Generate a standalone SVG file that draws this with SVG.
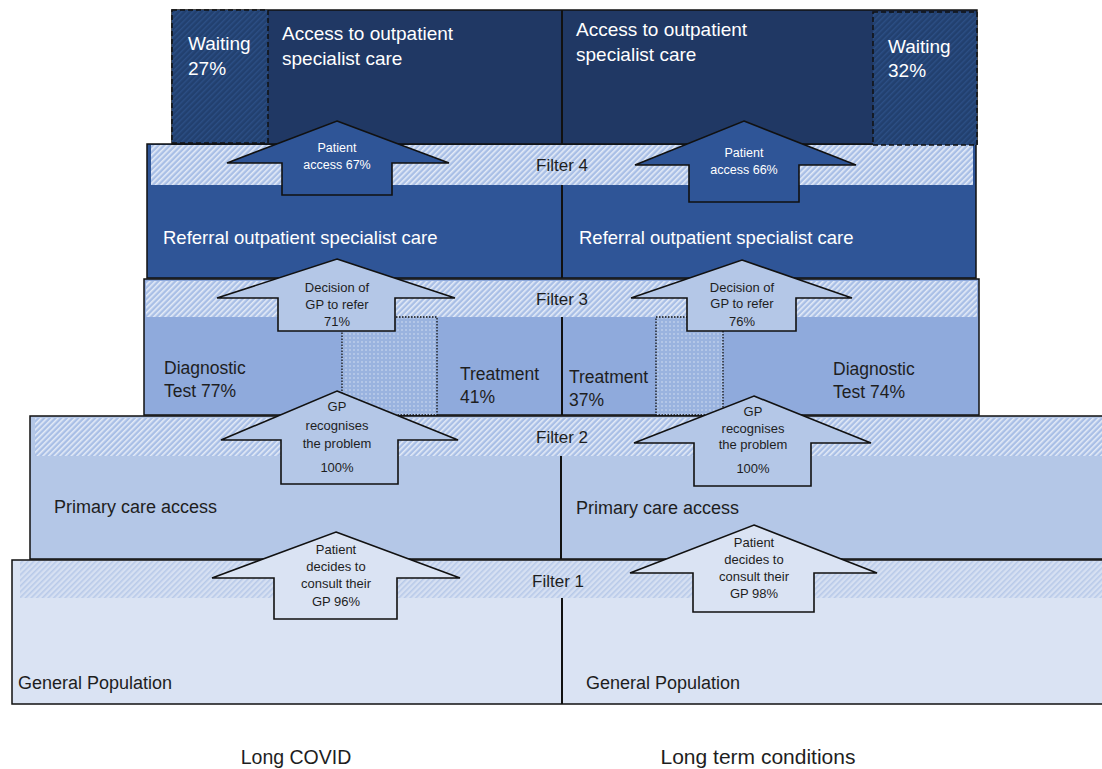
<svg xmlns="http://www.w3.org/2000/svg" width="1102" height="769" viewBox="0 0 1102 769">
  <style>
    text { font-family: "Liberation Sans", Arial, sans-serif; }
    .lyr { stroke: #111; stroke-width: 1.5; }
    .div { stroke: #111; stroke-width: 2; fill: none; }
    .arrow { stroke: #111; stroke-width: 1.6; stroke-linejoin: miter; }
    .wt { fill: #ffffff; }
    .dk { fill: #1e1e1e; }
    .big { font-size: 19px; }
    .lbl { font-size: 18px; }
    .mid { font-size: 17.5px; }
    .filt { font-size: 17px; text-anchor: middle; fill: #1e1e1e; }
    .sm { font-size: 13px; text-anchor: middle; }
    .xs { font-size: 12.5px; text-anchor: middle; }
    .foot { font-size: 19.5px; text-anchor: middle; fill: #1e1e1e; }
  </style>
  <defs>
    <pattern id="hatchLight" width="4" height="4" patternUnits="userSpaceOnUse" patternTransform="rotate(45)">
      <rect width="4" height="4" fill="#a9bfe6"/>
      <rect width="1.6" height="4" fill="#e4ebf7"/>
    </pattern>
    <pattern id="hatchPale" width="4" height="4" patternUnits="userSpaceOnUse" patternTransform="rotate(45)">
      <rect width="4" height="4" fill="#d6e0f2"/>
      <rect width="1.6" height="4" fill="#b8cae9"/>
    </pattern>
    <pattern id="waitHatch" width="4" height="4" patternUnits="userSpaceOnUse" patternTransform="rotate(45)">
      <rect width="4" height="4" fill="#22406f"/>
      <rect width="1.4" height="4" fill="#2c4f85"/>
    </pattern>
    <pattern id="dots" width="4" height="4" patternUnits="userSpaceOnUse">
      <rect width="4" height="4" fill="#9ab3df"/>
      <rect x="1.5" y="1.5" width="1" height="1" fill="#ffffff"/>
    </pattern>
  </defs>

  <!-- Layer 1: General Population -->
  <g id="layer-general-population">
    <rect class="lyr" x="12" y="560" width="1100" height="144" fill="#dae3f3"/>
    <rect x="20" y="561" width="1090" height="37" fill="url(#hatchPale)"/>
    <text class="filt" x="558" y="587">Filter 1</text>
    <text class="lbl dk" x="18" y="689">General Population</text>
    <text class="lbl dk" x="586" y="689">General Population</text>
  </g>

  <!-- Layer 2: Primary care access -->
  <g id="layer-primary-care">
    <rect class="lyr" x="30" y="416" width="1080" height="143" fill="#b4c7e7"/>
    <rect x="35" y="418" width="1070" height="38" fill="url(#hatchLight)"/>
    <text class="filt" x="562" y="443">Filter 2</text>
    <text class="lbl dk" x="54" y="513">Primary care access</text>
    <text class="lbl dk" x="576" y="514">Primary care access</text>
  </g>

  <!-- Layer 3: Diagnostic / Treatment -->
  <g id="layer-diagnostic">
    <rect class="lyr" x="144" y="279" width="835" height="136" fill="#8faadc"/>
    <rect x="146" y="281" width="831" height="36" fill="url(#hatchLight)"/>
    <text class="filt" x="562" y="305">Filter 3</text>
  </g>

  <g id="overlap-left">
    <rect x="342" y="317" width="95" height="98" fill="url(#dots)" stroke="#111" stroke-width="1.3" stroke-dasharray="1.5,1.5"/>
  </g>
  <g id="overlap-right">
    <rect x="656" y="317" width="67" height="98" fill="url(#dots)" stroke="#111" stroke-width="1.3" stroke-dasharray="1.5,1.5"/>
  </g>

  <g id="diagnostic-left">
    <text class="mid dk" x="164" y="374">Diagnostic</text>
    <text class="mid dk" x="164" y="397">Test 77%</text>
  </g>
  <g id="treatment-left">
    <text class="mid dk" x="460" y="380">Treatment</text>
    <text class="mid dk" x="460" y="403">41%</text>
  </g>
  <g id="treatment-right">
    <text class="mid dk" x="569" y="383">Treatment</text>
    <text class="mid dk" x="569" y="406">37%</text>
  </g>
  <g id="diagnostic-right">
    <text class="mid dk" x="833" y="375">Diagnostic</text>
    <text class="mid dk" x="833" y="398">Test 74%</text>
  </g>

  <!-- Layer 4: Referral -->
  <g id="layer-referral">
    <rect class="lyr" x="147" y="144" width="829" height="134" fill="#2f5597"/>
    <rect x="151" y="145" width="822" height="40" fill="url(#hatchLight)"/>
    <text class="filt" x="562" y="171">Filter 4</text>
    <text class="wt" style="font-size:18.5px" x="163" y="244">Referral outpatient specialist care</text>
    <text class="wt" style="font-size:18.5px" x="579" y="244">Referral outpatient specialist care</text>
  </g>

  <!-- Layer 5: Access to outpatient specialist care -->
  <g id="layer-access">
    <rect class="lyr" x="172" y="10" width="805" height="134" fill="#203864"/>
    <text class="big wt" x="282" y="40">Access to outpatient</text>
    <text class="big wt" x="282" y="65">specialist care</text>
    <text class="big wt" x="576" y="36">Access to outpatient</text>
    <text class="big wt" x="576" y="61">specialist care</text>
  </g>

  <g id="waiting-left">
    <rect x="172" y="10" width="96" height="133" fill="url(#waitHatch)" stroke="#111" stroke-width="1.5" stroke-dasharray="5,3"/>
    <text class="big wt" x="188" y="50">Waiting</text>
    <text class="big wt" x="188" y="75">27%</text>
  </g>
  <g id="waiting-right">
    <rect x="873" y="12" width="104" height="133" fill="url(#waitHatch)" stroke="#111" stroke-width="1.5" stroke-dasharray="5,3"/>
    <text class="big wt" x="888" y="53">Waiting</text>
    <text class="big wt" x="888" y="77">32%</text>
  </g>

  <!-- Column dividers -->
  <g id="dividers">
    <line class="div" x1="562" y1="10" x2="562" y2="144"/>
    <line class="div" x1="562" y1="185" x2="562" y2="278"/>
    <line class="div" x1="562" y1="317" x2="562" y2="415"/>
    <line class="div" x1="561" y1="456" x2="561" y2="559"/>
    <line class="div" x1="562" y1="598" x2="562" y2="704"/>
  </g>

  <!-- Block arrows (connectors between layers) -->
  <g id="connectors">
    <g id="arrow-patient-access-left">
      <polygon class="arrow" fill="#2f5597" points="337,121 449,163 392,163 392,195 282,195 282,163 227,163"/>
      <text class="xs wt" x="337" y="152">Patient</text>
      <text class="xs wt" x="337" y="169">access 67%</text>
    </g>
    <g id="arrow-patient-access-right">
      <polygon class="arrow" fill="#2f5597" points="744,121 856,165 799,165 799,202 689,202 689,165 635,165"/>
      <text class="xs wt" x="744" y="157">Patient</text>
      <text class="xs wt" x="744" y="174">access 66%</text>
    </g>
    <g id="arrow-decision-left">
      <polygon class="arrow" fill="#b4c7e7" points="337,259 455,298 395,298 395,331 278,331 278,298 217,298"/>
      <text class="sm dk" x="337" y="292">Decision of</text>
      <text class="sm dk" x="337" y="309">GP to refer</text>
      <text class="sm dk" x="337" y="326">71%</text>
    </g>
    <g id="arrow-decision-right">
      <polygon class="arrow" fill="#b4c7e7" points="742,260 852,298 796,298 796,331 687,331 687,298 631,298"/>
      <text class="sm dk" x="742" y="292">Decision of</text>
      <text class="sm dk" x="742" y="308">GP to refer</text>
      <text class="sm dk" x="742" y="326">76%</text>
    </g>
    <g id="arrow-gp-recognises-left">
      <polygon class="arrow" fill="#b4c7e7" points="337,391 458,440 398,440 398,484 281,484 281,440 221,440"/>
      <text class="sm dk" x="337" y="411">GP</text>
      <text class="sm dk" x="337" y="430">recognises</text>
      <text class="sm dk" x="337" y="448">the problem</text>
      <text class="sm dk" x="337" y="472">100%</text>
    </g>
    <g id="arrow-gp-recognises-right">
      <polygon class="arrow" fill="#b4c7e7" points="754,396 871,443 811,443 811,486 694,486 694,443 634,443"/>
      <text class="sm dk" x="753" y="416">GP</text>
      <text class="sm dk" x="753" y="433">recognises</text>
      <text class="sm dk" x="753" y="449">the problem</text>
      <text class="sm dk" x="753" y="473">100%</text>
    </g>
    <g id="arrow-patient-decides-left">
      <polygon class="arrow" fill="#dae3f3" points="336,532 460,578 397,578 397,619 274,619 274,578 212,578"/>
      <text class="sm dk" x="336" y="554">Patient</text>
      <text class="sm dk" x="336" y="571">decides to</text>
      <text class="sm dk" x="336" y="588">consult their</text>
      <text class="sm dk" x="336" y="606">GP 96%</text>
    </g>
    <g id="arrow-patient-decides-right">
      <polygon class="arrow" fill="#dae3f3" points="754,525 877,573 814,573 814,612 693,612 693,573 630,573"/>
      <text class="sm dk" x="754" y="547">Patient</text>
      <text class="sm dk" x="754" y="564">decides to</text>
      <text class="sm dk" x="754" y="581">consult their</text>
      <text class="sm dk" x="754" y="598">GP 98%</text>
    </g>
  </g>

  <g id="footer-long-covid">
    <text class="foot" x="296" y="764">Long COVID</text>
  </g>
  <g id="footer-long-term">
    <text class="foot" style="font-size:21px" x="758" y="764">Long term conditions</text>
  </g>
</svg>
